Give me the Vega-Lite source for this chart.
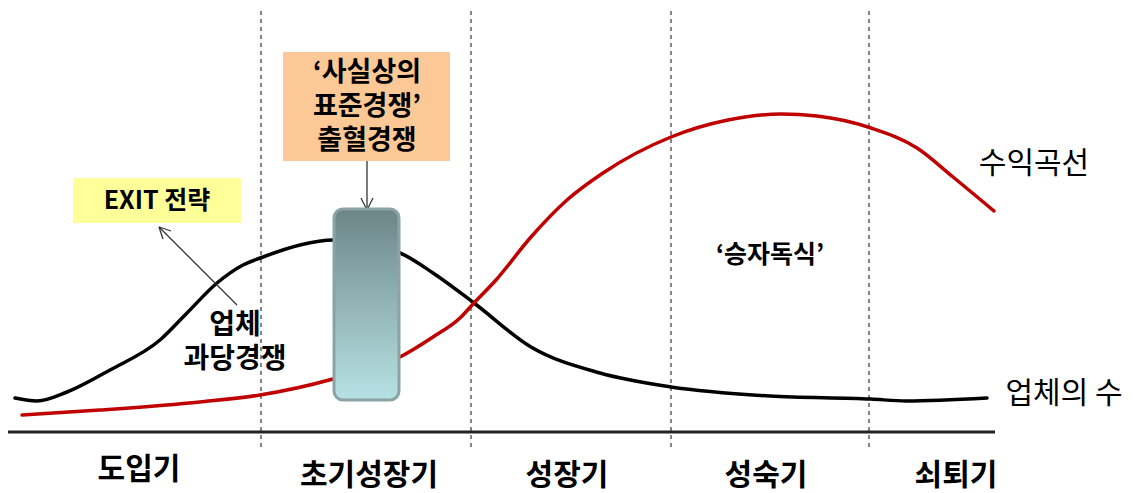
{
  "$schema": "https://vega.github.io/schema/vega-lite/v6.json",
  "width": 1133,
  "height": 493,
  "padding": 0,
  "autosize": {"type": "fit", "contains": "padding"},
  "background": "white",
  "config": {"view": {"stroke": null}, "text": {"font": "Noto Sans CJK KR"}},
  "datasets": {
    "curves": [
      {"series": "firms", "x": 15, "y": 398},
      {"series": "firms", "x": 37, "y": 401},
      {"series": "firms", "x": 67, "y": 392},
      {"series": "firms", "x": 110, "y": 370},
      {"series": "firms", "x": 160, "y": 340},
      {"series": "firms", "x": 187, "y": 313},
      {"series": "firms", "x": 217, "y": 283},
      {"series": "firms", "x": 243, "y": 265},
      {"series": "firms", "x": 263, "y": 257},
      {"series": "firms", "x": 300, "y": 245},
      {"series": "firms", "x": 333, "y": 240},
      {"series": "firms", "x": 400, "y": 253},
      {"series": "firms", "x": 433, "y": 273},
      {"series": "firms", "x": 474, "y": 303},
      {"series": "firms", "x": 531, "y": 347},
      {"series": "firms", "x": 600, "y": 373},
      {"series": "firms", "x": 671, "y": 387},
      {"series": "firms", "x": 770, "y": 396},
      {"series": "firms", "x": 871, "y": 399},
      {"series": "firms", "x": 906, "y": 401},
      {"series": "firms", "x": 987, "y": 398},
      {"series": "profit", "x": 22, "y": 415},
      {"series": "profit", "x": 100, "y": 410},
      {"series": "profit", "x": 200, "y": 402},
      {"series": "profit", "x": 260, "y": 395},
      {"series": "profit", "x": 333, "y": 379},
      {"series": "profit", "x": 400, "y": 357},
      {"series": "profit", "x": 433, "y": 337},
      {"series": "profit", "x": 460, "y": 318},
      {"series": "profit", "x": 474, "y": 303},
      {"series": "profit", "x": 496, "y": 280},
      {"series": "profit", "x": 531, "y": 237},
      {"series": "profit", "x": 567, "y": 200},
      {"series": "profit", "x": 603, "y": 173},
      {"series": "profit", "x": 671, "y": 137},
      {"series": "profit", "x": 728, "y": 120},
      {"series": "profit", "x": 781, "y": 114},
      {"series": "profit", "x": 817, "y": 116},
      {"series": "profit", "x": 871, "y": 128},
      {"series": "profit", "x": 917, "y": 148},
      {"series": "profit", "x": 953, "y": 177},
      {"series": "profit", "x": 994, "y": 211}
    ],
    "dividers": [
      {"x": 261, "y": 11, "y2": 447},
      {"x": 471, "y": 11, "y2": 447},
      {"x": 671, "y": 11, "y2": 447},
      {"x": 869, "y": 11, "y2": 447}
    ],
    "baseline": [{"x": 8, "x2": 995, "y": 432}],
    "arrows": [
      {"x": 237, "y": 305, "x2": 159, "y2": 227},
      {"x": 159, "y": 227, "x2": 171, "y2": 231},
      {"x": 159, "y": 227, "x2": 163, "y2": 239},
      {"x": 367, "y": 161, "x2": 367, "y2": 210},
      {"x": 367, "y": 210, "x2": 361, "y2": 198},
      {"x": 367, "y": 210, "x2": 373, "y2": 198}
    ],
    "boxes": [
      {"name": "exit", "x": 73, "x2": 241, "y": 178, "y2": 223},
      {"name": "standard", "x": 283, "x2": 450, "y": 52, "y2": 161}
    ],
    "bar": [{"x": 334, "x2": 399, "y": 209, "y2": 400}],
    "stageLabels": [
      {"t": "도입기", "x": 139, "y": 470},
      {"t": "초기성장기", "x": 369, "y": 476},
      {"t": "성장기", "x": 567, "y": 476},
      {"t": "성숙기", "x": 766, "y": 476},
      {"t": "쇠퇴기", "x": 956, "y": 476}
    ],
    "seriesLabels": [
      {"t": "수익곡선", "x": 1034, "y": 164},
      {"t": "업체의 수", "x": 1064, "y": 394}
    ]
  },
  "layer": [
    {
      "data": {"name": "dividers"},
      "mark": {"type": "rule", "color": "#444444", "strokeWidth": 1.3, "strokeDash": [4, 4]},
      "encoding": {
        "x": {"field": "x", "type": "quantitative", "scale": {"domain": [0, 1133], "nice": false, "zero": false}, "axis": null},
        "y": {"field": "y", "type": "quantitative", "scale": {"domain": [0, 493], "nice": false, "zero": false, "reverse": true}, "axis": null},
        "y2": {"field": "y2"}
      }
    },
    {
      "data": {"name": "baseline"},
      "mark": {"type": "rule", "color": "#222222", "strokeWidth": 3},
      "encoding": {
        "x": {"field": "x", "type": "quantitative", "scale": {"domain": [0, 1133], "nice": false, "zero": false}, "axis": null},
        "x2": {"field": "x2"},
        "y": {"field": "y", "type": "quantitative", "scale": {"domain": [0, 493], "nice": false, "zero": false, "reverse": true}, "axis": null}
      }
    },
    {
      "data": {"name": "curves"},
      "mark": {"type": "line", "strokeWidth": 3.5, "interpolate": "monotone", "strokeCap": "round"},
      "encoding": {
        "x": {"field": "x", "type": "quantitative", "scale": {"domain": [0, 1133], "nice": false, "zero": false}, "axis": null},
        "y": {"field": "y", "type": "quantitative", "scale": {"domain": [0, 493], "nice": false, "zero": false, "reverse": true}, "axis": null},
        "color": {"field": "series", "type": "nominal", "scale": {"domain": ["firms", "profit"], "range": ["#000000", "#C00000"]}, "legend": null}
      }
    },
    {
      "data": {"name": "boxes"},
      "mark": {"type": "rect"},
      "encoding": {
        "x": {"field": "x", "type": "quantitative", "scale": {"domain": [0, 1133], "nice": false, "zero": false}, "axis": null},
        "x2": {"field": "x2"},
        "y": {"field": "y", "type": "quantitative", "scale": {"domain": [0, 493], "nice": false, "zero": false, "reverse": true}, "axis": null},
        "y2": {"field": "y2"},
        "fill": {"field": "name", "type": "nominal", "scale": {"domain": ["exit", "standard"], "range": ["#FFFF99", "#FCC896"]}, "legend": null}
      }
    },
    {
      "data": {"name": "arrows"},
      "mark": {"type": "rule", "color": "#333333", "strokeWidth": 1.3},
      "encoding": {
        "x": {"field": "x", "type": "quantitative", "scale": {"domain": [0, 1133], "nice": false, "zero": false}, "axis": null},
        "x2": {"field": "x2"},
        "y": {"field": "y", "type": "quantitative", "scale": {"domain": [0, 493], "nice": false, "zero": false, "reverse": true}, "axis": null},
        "y2": {"field": "y2"}
      }
    },
    {
      "data": {"name": "bar"},
      "mark": {
        "type": "rect",
        "cornerRadius": 9,
        "stroke": "#8CA3A5",
        "strokeWidth": 3,
        "color": {"gradient": "linear", "x1": 0, "y1": 0, "x2": 0, "y2": 1, "stops": [{"offset": 0, "color": "#6C8587"}, {"offset": 0.5, "color": "#93B4B6"}, {"offset": 1, "color": "#B6E2E5"}]}
      },
      "encoding": {
        "x": {"field": "x", "type": "quantitative", "scale": {"domain": [0, 1133], "nice": false, "zero": false}, "axis": null},
        "x2": {"field": "x2"},
        "y": {"field": "y", "type": "quantitative", "scale": {"domain": [0, 493], "nice": false, "zero": false, "reverse": true}, "axis": null},
        "y2": {"field": "y2"}
      }
    },
    {
      "data": {"name": "stageLabels"},
      "mark": {"type": "text", "fontSize": 30, "fontWeight": "bold", "color": "#000000", "align": "center", "baseline": "middle"},
      "encoding": {
        "x": {"field": "x", "type": "quantitative", "scale": {"domain": [0, 1133], "nice": false, "zero": false}, "axis": null},
        "y": {"field": "y", "type": "quantitative", "scale": {"domain": [0, 493], "nice": false, "zero": false, "reverse": true}, "axis": null},
        "text": {"field": "t"}
      }
    },
    {
      "data": {"name": "seriesLabels"},
      "mark": {"type": "text", "fontSize": 30, "fontWeight": "normal", "color": "#000000", "align": "center", "baseline": "middle"},
      "encoding": {
        "x": {"field": "x", "type": "quantitative", "scale": {"domain": [0, 1133], "nice": false, "zero": false}, "axis": null},
        "y": {"field": "y", "type": "quantitative", "scale": {"domain": [0, 493], "nice": false, "zero": false, "reverse": true}, "axis": null},
        "text": {"field": "t"}
      }
    },
    {
      "data": {"values": [
        {"t": "‘사실상의\n표준경쟁’\n출혈경쟁", "x": 367, "y": 73}
      ]},
      "mark": {"type": "text", "fontSize": 27, "fontWeight": "bold", "color": "#000000", "align": "center", "baseline": "middle", "lineBreak": "\n", "lineHeight": 34},
      "encoding": {
        "x": {"field": "x", "type": "quantitative", "scale": {"domain": [0, 1133], "nice": false, "zero": false}, "axis": null},
        "y": {"field": "y", "type": "quantitative", "scale": {"domain": [0, 493], "nice": false, "zero": false, "reverse": true}, "axis": null},
        "text": {"field": "t"}
      }
    },
    {
      "data": {"values": [
        {"t": "업체\n과당경쟁", "x": 235, "y": 326}
      ]},
      "mark": {"type": "text", "fontSize": 28, "fontWeight": "bold", "color": "#000000", "align": "center", "baseline": "middle", "lineBreak": "\n", "lineHeight": 34},
      "encoding": {
        "x": {"field": "x", "type": "quantitative", "scale": {"domain": [0, 1133], "nice": false, "zero": false}, "axis": null},
        "y": {"field": "y", "type": "quantitative", "scale": {"domain": [0, 493], "nice": false, "zero": false, "reverse": true}, "axis": null},
        "text": {"field": "t"}
      }
    },
    {
      "data": {"values": [
        {"t": "EXIT 전략", "x": 157, "y": 201},
        {"t": "‘승자독식’", "x": 770, "y": 255}
      ]},
      "mark": {"type": "text", "fontSize": 25, "fontWeight": "bold", "color": "#000000", "align": "center", "baseline": "middle"},
      "encoding": {
        "x": {"field": "x", "type": "quantitative", "scale": {"domain": [0, 1133], "nice": false, "zero": false}, "axis": null},
        "y": {"field": "y", "type": "quantitative", "scale": {"domain": [0, 493], "nice": false, "zero": false, "reverse": true}, "axis": null},
        "text": {"field": "t"}
      }
    }
  ]
}
